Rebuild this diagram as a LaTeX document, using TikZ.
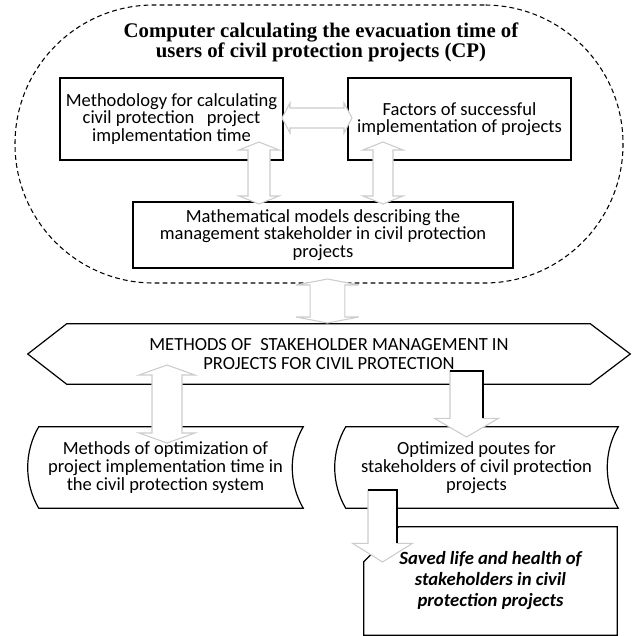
\documentclass[tikz,border=0pt]{standalone}
\usepackage{fontspec}
\setmainfont{Carlito}
\newfontfamily\titlefont{Liberation Serif}
\usetikzlibrary{calc}
\tikzset{box/.style={draw,line width=.9pt,minimum width=167.25pt,minimum height=61.5pt,inner sep=0pt,align=center,font=\fontsize{13.9}{13.1}\selectfont},
 txt/.style={inner sep=0pt,align=center,font=\fontsize{13.9}{13.6}\selectfont},
 outline/.style={line width=.9pt},
 blockarrow/.style={draw=gray!40,fill=white,line width=.8pt},
 arrowedge/.style={line width=.9pt}}
\newcommand{\dblvarrow}[5]{\path[blockarrow] let \p1=(#1),\p2=(#2) in (\x1,\y1) -- (\x1+#4,\y1-#5) -- (\x1+#3,\y1-#5) -- (\x2+#3,\y2+#5) -- (\x2+#4,\y2+#5) -- (\x2,\y2) -- (\x2-#4,\y2+#5) -- (\x2-#3,\y2+#5) -- (\x1-#3,\y1-#5) -- (\x1-#4,\y1-#5) -- cycle;}
\newcommand{\dblharrow}[5]{\path[blockarrow] let \p1=(#1),\p2=(#2) in (\x1,\y1) -- (\x1+#5,\y1+#4) -- (\x1+#5,\y1+#3) -- (\x2-#5,\y2+#3) -- (\x2-#5,\y2+#4) -- (\x2,\y2) -- (\x2-#5,\y2-#4) -- (\x2-#5,\y2-#3) -- (\x1+#5,\y1-#3) -- (\x1+#5,\y1-#4) -- cycle;}
\newcommand{\sglvarrow}[5]{\path[blockarrow] let \p1=(#1),\p2=(#2) in (\x1-#3,\y1) -- (\x1+#3,\y1) -- (\x1+#3,\y2+#5) -- (\x1+#4,\y2+#5) -- (\x2,\y2) -- (\x1-#4,\y2+#5) -- (\x1-#3,\y2+#5) -- cycle;
 \draw[arrowedge] let \p1=(#1),\p2=(#2) in (\x1-#3,\y1) -- (\x1+#3,\y1) -- (\x1+#3,\y2+#5);}

\begin{document}
\begin{tikzpicture}[x=.75pt,y=-.75pt]
\useasboundingbox (0,0) rectangle (633,636);
\node[draw,dash pattern=on 3.6pt off 2.4pt,line width=.8pt,rounded corners=104pt,minimum width=456pt,minimum height=208.5pt] (cp) at (319,144) {};
\node[align=center,font=\titlefont\bfseries\fontsize{15.6}{15}\selectfont] (title) at (321,42) {Computer calculating the evacuation time of\\users of civil protection projects (CP)};
\node[box] (meth) at (171.5,119) {Methodology for calculating\\civil protection\ \ \ project\\implementation time};
\node[box] (fact) at (459.5,119) {Factors of successful\\implementation of projects};
\node[box,minimum width=285pt,minimum height=49.5pt] (math) at (323,235) {Mathematical models describing the\\management stakeholder in civil protection\\projects};
\node[txt,minimum width=451.5pt,minimum height=45pt] (stake) at (329,354) {METHODS OF\ \ STAKEHOLDER MANAGEMENT IN\\PROJECTS FOR CIVIL PROTECTION};
\draw[outline] (stake.west) -- ($(stake.north west)+(39,0)$) -- ($(stake.north east)+(-40,0)$) -- (stake.east) -- ($(stake.south east)+(-40,0)$) -- ($(stake.south west)+(39,0)$) -- cycle;
\node[txt,minimum width=206.25pt,minimum height=60.75pt] (optim) at (165.5,467.5) {Methods of optimization of\\project implementation time in\\the civil protection system};
\node[txt,minimum width=212.25pt,minimum height=60.75pt] (routes) at (476.5,467.5) {Optimized poutes for\\stakeholders of civil protection\\projects};
\foreach \n in {optim,routes}{\draw[outline] ($(\n.north west)+(11,0)$) -- (\n.north east) .. controls +(-14.7,25) and +(-14.7,-25) .. (\n.south east) -- ($(\n.south west)+(11,0)$) .. controls +(-14.7,-25) and +(-14.7,25) .. ($(\n.north west)+(11,0)$) -- cycle;}
\node[txt,font=\bfseries\itshape\fontsize{14}{15.75}\selectfont,minimum width=189.75pt,minimum height=81pt] (saved) at (490.5,581) {Saved life and health of\\stakeholders in civil\\protection projects};
\draw[outline] (saved.south west) -- ($(saved.north west)+(0,35)$) -- ($(saved.north west)+(35,0)$) -- (saved.north east) -- (saved.south east) -- cycle;
\coordinate (h1) at (282,118); \coordinate (h2) at (352,118);
\coordinate (v1) at (259,142); \coordinate (v2) at (259,204);
\coordinate (w1) at (383,142); \coordinate (w2) at (383,204);
\coordinate (c1) at (327.5,279); \coordinate (c2) at (327.5,323);
\coordinate (l1) at (167,365); \coordinate (l2) at (167,443);
\coordinate (r1) at (466.5,371); \coordinate (r2) at (466.5,437);
\coordinate (s1) at (382.5,490); \coordinate (s2) at (382.5,562);
\dblharrow{h1}{h2}{7.5pt}{11.25pt}{6pt}
\dblvarrow{v1}{v2}{8.25pt}{15pt}{6pt}
\dblvarrow{w1}{w2}{7.5pt}{15pt}{6pt}
\dblvarrow{c1}{c2}{13pt}{23.5pt}{4.5pt}
\dblvarrow{l1}{l2}{11.25pt}{21pt}{7.5pt}
\sglvarrow{r1}{r2}{12.4pt}{24pt}{14pt}
\sglvarrow{s1}{s2}{10.9pt}{22.5pt}{14pt}
\end{tikzpicture}
\end{document}
